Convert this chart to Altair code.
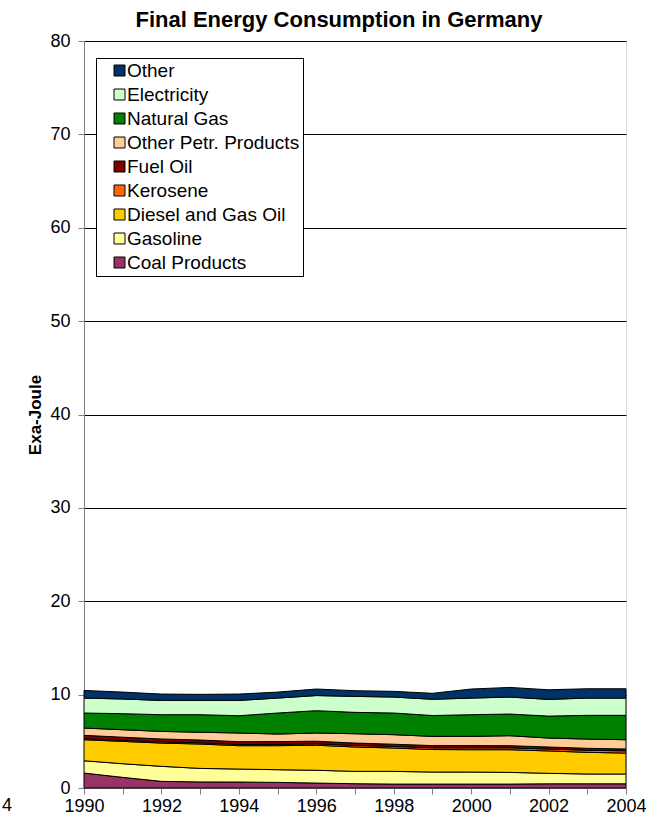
import altair as alt
import pandas as pd

years = list(range(1990, 2005))
coal = [1.60, 1.14, 0.71, 0.65, 0.64, 0.60, 0.53, 0.46, 0.42, 0.42, 0.42, 0.42, 0.45, 0.45, 0.45]
gasoline = [1.32, 1.46, 1.61, 1.45, 1.39, 1.36, 1.37, 1.32, 1.36, 1.29, 1.29, 1.25, 1.12, 1.05, 1.05]
diesel = [2.25, 2.39, 2.49, 2.61, 2.50, 2.57, 2.68, 2.61, 2.50, 2.41, 2.39, 2.43, 2.40, 2.32, 2.24]
kerosene = [0.12, 0.12, 0.13, 0.13, 0.13, 0.14, 0.15, 0.16, 0.17, 0.18, 0.20, 0.20, 0.20, 0.22, 0.24]
fuel_oil = [0.35, 0.33, 0.31, 0.30, 0.30, 0.30, 0.28, 0.26, 0.24, 0.24, 0.24, 0.23, 0.22, 0.21, 0.20]
other_petr = [0.78, 0.80, 0.81, 0.83, 0.93, 0.81, 0.88, 1.00, 1.02, 0.99, 0.99, 1.07, 0.96, 0.99, 0.99]
natural_gas = [1.61, 1.72, 1.79, 1.88, 1.85, 2.25, 2.39, 2.29, 2.32, 2.23, 2.32, 2.32, 2.35, 2.54, 2.61]
electricity = [1.60, 1.57, 1.53, 1.53, 1.64, 1.60, 1.62, 1.71, 1.71, 1.74, 1.78, 1.82, 1.79, 1.85, 1.85]
other = [0.82, 0.74, 0.68, 0.65, 0.68, 0.64, 0.70, 0.61, 0.61, 0.64, 0.97, 1.03, 1.03, 1.00, 1.00]

# bottom to top
series_names = ["Coal Products", "Gasoline", "Diesel and Gas Oil", "Kerosene", "Fuel Oil",
                "Other Petr. Products", "Natural Gas", "Electricity", "Other"]
series_values = [coal, gasoline, diesel, kerosene, fuel_oil, other_petr, natural_gas, electricity, other]
series_colors = ["#993366", "#FFFF99", "#FFCC00", "#FF6600", "#800000",
                 "#FFCC99", "#008000", "#CCFFCC", "#003366"]

rows = []
for rank, (name, vals) in enumerate(zip(series_names, series_values)):
    for yr, v in zip(years, vals):
        rows.append({"year": yr, "series": name, "value": v, "rank": rank})
df = pd.DataFrame(rows)

FONT = "Liberation Sans"
W, H = 542, 747

legend_order = series_names[::-1]
legend_colors = series_colors[::-1]

areas = alt.Chart(df).mark_area(stroke="black", strokeWidth=1).encode(
    x=alt.X("year:Q",
            scale=alt.Scale(domain=[1990, 2004], nice=False, zero=False),
            axis=alt.Axis(values=years, format="d", title=None,
                          labelExpr="datum.value % 2 == 0 ? datum.label : ''",
                          labelFlush=False, labelOverlap=False,
                          grid=False, domainColor="#808080", tickColor="#808080",
                          tickSize=6, labelFontSize=18, labelFont=FONT,
                          labelColor="black", labelPadding=3)),
    y=alt.Y("value:Q", stack="zero",
            scale=alt.Scale(domain=[0, 80], nice=False),
            axis=alt.Axis(values=list(range(0, 81, 10)), title="Exa-Joule",
                          grid=True, gridColor="black", gridWidth=1,
                          domainColor="#808080", tickColor="#808080", tickSize=6,
                          labelFontSize=18, labelFont=FONT, labelColor="black",
                          labelPadding=8, titleFont=FONT, titleFontSize=17,
                          titleFontWeight="bold", titleColor="black", titlePadding=5)),
    color=alt.Color("series:N",
                    scale=alt.Scale(domain=legend_order, range=legend_colors),
                    legend=alt.Legend(title=None, orient="none", legendX=12, legendY=17,
                                      strokeColor="black", fillColor="white",
                                      padding=3, symbolType="square", symbolSize=121,
                                      symbolStrokeColor="black", symbolStrokeWidth=1,
                                      symbolOffset=11, labelOffset={"expr": "-2"}, rowPadding=4,
                                      labelFontSize=19, labelFont=FONT, labelColor="black",
                                      labelLimit=300)),
    order=alt.Order("rank:Q", sort="ascending"),
)

stray = alt.Chart(pd.DataFrame({"t": ["4"]})).mark_text(
    font=FONT, fontSize=18, align="left", baseline="top", color="black"
).encode(text="t:N", x=alt.value(-82), y=alt.value(H + 9))

chart = alt.layer(areas, stray).properties(
    width=W, height=H,
    title=alt.TitleParams("Final Energy Consumption in Germany", font=FONT, fontSize=22,
                          fontWeight="bold", color="black", anchor="middle", dx=-16, offset=0),
    autosize=alt.AutoSizeParams(type="none"),
    padding={"left": 84, "top": 41, "right": 45, "bottom": 39},
).configure_view(stroke="#808080", strokeWidth=1).configure_legend(
    strokeWidth=1
).configure(background="white")

chart.save("out.html", embed_options={"renderer": "svg", "actions": False})
